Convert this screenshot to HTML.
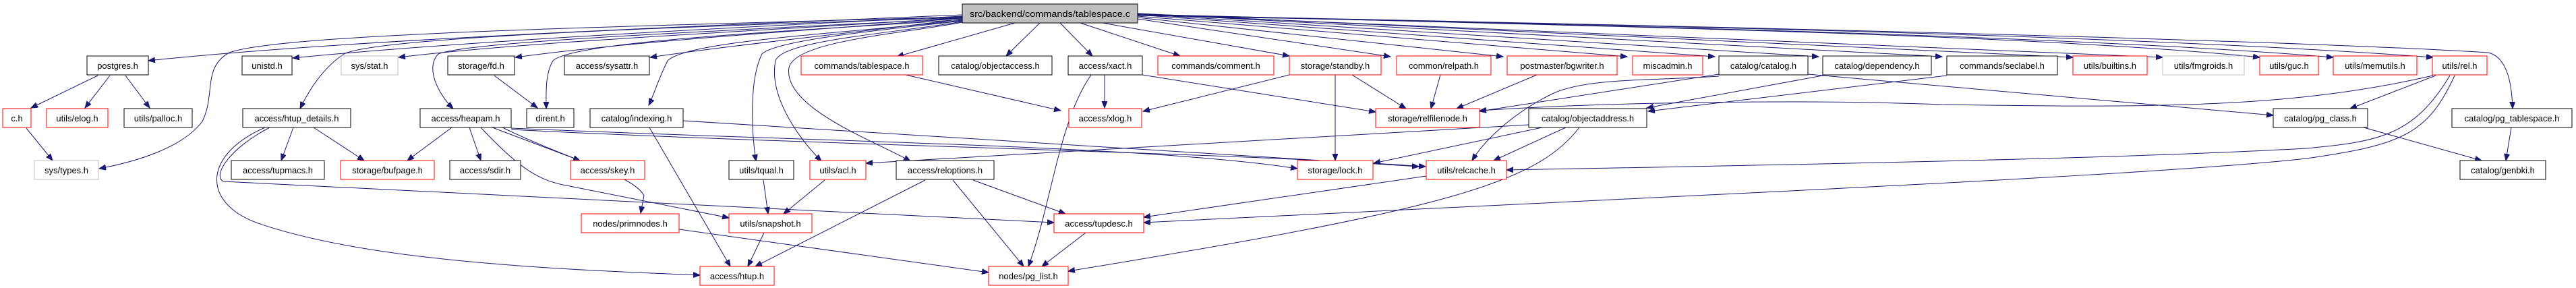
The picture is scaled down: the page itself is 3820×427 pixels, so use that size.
<!DOCTYPE html>
<html><head><meta charset="utf-8"><style>
html,body{margin:0;padding:0;background:#fff;}
svg{display:block;}
text{font-family:"Liberation Sans",sans-serif;font-size:13px;fill:#000;}
.n{fill:#fff;stroke:#000;stroke-width:1;}
.r{fill:#fff;stroke:#f00;stroke-width:1;}
.g{fill:#fff;stroke:#bfbfbf;stroke-width:1;}
.e{fill:none;stroke:#191970;stroke-width:1;marker-end:url(#a);}
</style></head><body>
<svg width="3820" height="427" viewBox="0 0 3820 427" xmlns="http://www.w3.org/2000/svg">
<defs><marker id="a" markerUnits="userSpaceOnUse" markerWidth="12" markerHeight="10" refX="10" refY="4" orient="auto"><path d="M0,0 L10,4 L0,8 z" fill="#191970" stroke="#191970"/></marker></defs>

<!-- edges from top -->
<path class="e" d="M1427,22 C1000,40 500,60 220,90"/>
<path class="e" d="M1427,24 C1100,40 700,60 434,86"/>
<path class="e" d="M1427,26 C1150,45 800,60 591,85"/>
<path class="e" d="M1427,27 C1200,45 950,60 764,85"/>
<path class="e" d="M1427,28 C1300,45 1100,65 964,85"/>
<path class="e" d="M1427,25 C900,40 420,50 340,78 C300,100 320,140 300,180 C270,220 200,240 147,250"/>
<path class="e" d="M1427,26 C1000,40 560,55 510,80 C480,100 460,130 445,161"/>
<path class="e" d="M1427,27 C1100,45 700,60 650,80 C630,100 650,140 672,161"/>
<path class="e" d="M1427,29 C1200,45 850,60 820,90 C808,110 810,140 810,161"/>
<path class="e" d="M1427,30 C1250,50 1020,60 990,90 C975,120 970,140 962,156"/>
<path class="e" d="M1427,31 C1300,45 1150,60 1130,80 C1110,120 1115,200 1121,239"/>
<path class="e" d="M1427,32 C1320,50 1160,60 1150,90 C1140,140 1180,200 1218,239"/>
<path class="e" d="M1427,33 C1340,50 1180,60 1170,100 C1160,160 1300,210 1350,239"/>
<path class="e" d="M1505,34 L1330,84"/>
<path class="e" d="M1542,34 L1492,83"/>
<path class="e" d="M1572,34 L1620,83"/>
<path class="e" d="M1602,34 L1750,83"/>
<path class="e" d="M1635,34 L1912,83"/>
<path class="e" d="M1687,28 L2062,84"/>
<path class="e" d="M1687,26 L2229,84"/>
<path class="e" d="M1687,24 L2413,84"/>
<path class="e" d="M1687,22 L2543,84"/>
<path class="e" d="M1687,21 L2697,84"/>
<path class="e" d="M1687,20 L2880,84"/>
<path class="e" d="M1687,20 L3074,85"/>
<path class="e" d="M1687,21 L3207,85"/>
<path class="e" d="M1687,21 C2400,40 3000,50 3351,85"/>
<path class="e" d="M1687,22 C2500,40 3100,55 3460,85"/>
<path class="e" d="M1687,23 C2600,40 3200,55 3608,85"/>
<path class="e" d="M1687,22 C2600,40 3400,60 3690,78 C3720,85 3725,130 3726,161"/>

<!-- other edges -->
<path class="e" d="M145,112 L46,160"/>
<path class="e" d="M163,112 L126,160"/>
<path class="e" d="M186,112 L222,160"/>
<path class="e" d="M39,190 L78,238"/>
<path class="e" d="M733,112 L797,160"/>
<path class="e" d="M435,189 L417,238"/>
<path class="e" d="M465,189 L540,238"/>
<path class="e" d="M400,189 C340,220 315,260 331,269 L1563,330"/>
<path class="e" d="M393,189 C300,230 300,300 380,330 C550,390 850,400 1038,408"/>
<path class="e" d="M670,189 L604,238"/>
<path class="e" d="M696,189 L713,238"/>
<path class="e" d="M730,189 L860,238"/>
<path class="e" d="M713,189 C770,250 800,268 840,275 L1081,323"/>
<path class="e" d="M745,189 C850,240 940,260 955,290 L950,316"/>
<path class="e" d="M758,190 C1200,210 1700,215 1924,250"/>
<path class="e" d="M758,192 C1200,215 1800,225 2114,247"/>
<path class="e" d="M1013,179 L2104,247"/>
<path class="e" d="M963,189 L1083,395"/>
<path class="e" d="M1132,267 L1139,317"/>
<path class="e" d="M1223,267 L1162,317"/>
<path class="e" d="M1133,345 L1109,395"/>
<path class="e" d="M1372,267 L1120,395"/>
<path class="e" d="M1413,267 L1518,395"/>
<path class="e" d="M1443,267 L1580,317"/>
<path class="e" d="M1343,111 L1573,164"/>
<path class="e" d="M1638,111 L1638,160"/>
<path class="e" d="M1618,111 C1570,180 1560,300 1525,395"/>
<path class="e" d="M1694,111 L2040,166"/>
<path class="e" d="M1912,111 L1695,165"/>
<path class="e" d="M2005,111 L2085,161"/>
<path class="e" d="M1980,111 L1980,238"/>
<path class="e" d="M2136,111 L2122,161"/>
<path class="e" d="M2279,111 L2160,161"/>
<path class="e" d="M2549,110 L2194,165"/>
<path class="e" d="M2549,113 C2450,120 2350,115 2300,140 C2240,170 2200,210 2183,238"/>
<path class="e" d="M2681,110 L3371,171"/>
<path class="e" d="M2703,112 L2442,160"/>
<path class="e" d="M2887,112 L2444,165"/>
<path class="e" d="M3608,112 C3400,160 3200,160 2880,155 C2700,148 2400,150 2194,164"/>
<path class="e" d="M3612,112 L3485,161"/>
<path class="e" d="M3633,112 C3580,200 3530,210 3420,220 C3200,232 2900,240 2234,252"/>
<path class="e" d="M3640,112 C3600,200 3560,215 3420,235 C3200,260 2500,290 1696,330"/>
<path class="e" d="M2115,261 L1696,322"/>
<path class="e" d="M2342,189 C2280,270 2150,310 1584,402"/>
<path class="e" d="M2267,185 L1284,242"/>
<path class="e" d="M2287,189 L2037,242"/>
<path class="e" d="M2322,189 L2215,238"/>
<path class="e" d="M3505,189 L3680,238"/>
<path class="e" d="M3724,189 L3716,238"/>
<path class="e" d="M1007,340 L1466,404"/>
<path class="e" d="M1610,345 L1545,395"/>

<!-- nodes -->
<rect x="1427" y="6" width="260" height="28" fill="#bfbfbf" stroke="#000"/><text x="1557" y="25" text-anchor="middle" textLength="238" lengthAdjust="spacingAndGlyphs">src/backend/commands/tablespace.c</text>

<rect class="n" x="129" y="83" width="91" height="28"/><text x="174.5" y="102" text-anchor="middle">postgres.h</text>
<rect class="n" x="359" y="83" width="74" height="28"/><text x="396" y="102" text-anchor="middle">unistd.h</text>
<rect class="g" x="506" y="83" width="84" height="28"/><text x="548" y="102" text-anchor="middle">sys/stat.h</text>
<rect class="n" x="664" y="83" width="99" height="28"/><text x="713.5" y="102" text-anchor="middle">storage/fd.h</text>
<rect class="n" x="837" y="83" width="126" height="28"/><text x="900" y="102" text-anchor="middle">access/sysattr.h</text>
<rect class="r" x="1188" y="83" width="180" height="28"/><text x="1278" y="102" text-anchor="middle">commands/tablespace.h</text>
<rect class="n" x="1392" y="83" width="168" height="28"/><text x="1476" y="102" text-anchor="middle">catalog/objectaccess.h</text>
<rect class="n" x="1584" y="83" width="110" height="28"/><text x="1639" y="102" text-anchor="middle">access/xact.h</text>
<rect class="r" x="1717" y="83" width="172" height="28"/><text x="1803" y="102" text-anchor="middle">commands/comment.h</text>
<rect class="r" x="1912" y="83" width="136" height="28"/><text x="1980" y="102" text-anchor="middle">storage/standby.h</text>
<rect class="r" x="2071" y="83" width="140" height="28"/><text x="2141" y="102" text-anchor="middle">common/relpath.h</text>
<rect class="r" x="2235" y="83" width="163" height="28"/><text x="2316.5" y="102" text-anchor="middle">postmaster/bgwriter.h</text>
<rect class="r" x="2421" y="83" width="104" height="28"/><text x="2473" y="102" text-anchor="middle">miscadmin.h</text>
<rect class="n" x="2549" y="83" width="132" height="28"/><text x="2615" y="102" text-anchor="middle">catalog/catalog.h</text>
<rect class="n" x="2703" y="83" width="161" height="28"/><text x="2783.5" y="102" text-anchor="middle">catalog/dependency.h</text>
<rect class="n" x="2887" y="83" width="164" height="28"/><text x="2969" y="102" text-anchor="middle">commands/seclabel.h</text>
<rect class="r" x="3074" y="83" width="110" height="28"/><text x="3129" y="102" text-anchor="middle">utils/builtins.h</text>
<rect class="g" x="3207" y="83" width="121" height="28"/><text x="3267.5" y="102" text-anchor="middle">utils/fmgroids.h</text>
<rect class="r" x="3351" y="83" width="87" height="28"/><text x="3394.5" y="102" text-anchor="middle">utils/guc.h</text>
<rect class="r" x="3460" y="83" width="124" height="28"/><text x="3522" y="102" text-anchor="middle">utils/memutils.h</text>
<rect class="r" x="3607" y="83" width="81" height="28"/><text x="3647.5" y="102" text-anchor="middle">utils/rel.h</text>

<rect class="r" x="4" y="161" width="42" height="28"/><text x="25" y="180" text-anchor="middle">c.h</text>
<rect class="r" x="69" y="161" width="91" height="28"/><text x="114.5" y="180" text-anchor="middle">utils/elog.h</text>
<rect class="n" x="184" y="161" width="101" height="28"/><text x="234.5" y="180" text-anchor="middle">utils/palloc.h</text>
<rect class="n" x="360" y="161" width="160" height="28"/><text x="440" y="180" text-anchor="middle">access/htup_details.h</text>
<rect class="n" x="623" y="161" width="135" height="28"/><text x="690.5" y="180" text-anchor="middle">access/heapam.h</text>
<rect class="n" x="781" y="161" width="70" height="28"/><text x="816" y="180" text-anchor="middle">dirent.h</text>
<rect class="n" x="875" y="161" width="138" height="28"/><text x="944" y="180" text-anchor="middle">catalog/indexing.h</text>
<rect class="r" x="1585" y="161" width="108" height="28"/><text x="1639" y="180" text-anchor="middle">access/xlog.h</text>
<rect class="r" x="2040" y="161" width="154" height="28"/><text x="2117" y="180" text-anchor="middle">storage/relfilenode.h</text>
<rect class="n" x="2267" y="161" width="175" height="28"/><text x="2354.5" y="180" text-anchor="middle">catalog/objectaddress.h</text>
<rect class="n" x="3371" y="161" width="140" height="28"/><text x="3441" y="180" text-anchor="middle">catalog/pg_class.h</text>
<rect class="n" x="3636" y="161" width="178" height="28"/><text x="3725" y="180" text-anchor="middle">catalog/pg_tablespace.h</text>

<rect class="g" x="51" y="238" width="95" height="28"/><text x="98.5" y="257" text-anchor="middle">sys/types.h</text>
<rect class="n" x="343" y="238" width="138" height="28" stroke="#404040"/><text x="412" y="257" text-anchor="middle">access/tupmacs.h</text>
<rect class="r" x="505" y="238" width="139" height="28"/><text x="574.5" y="257" text-anchor="middle">storage/bufpage.h</text>
<rect class="n" x="667" y="238" width="105" height="28" stroke="#404040"/><text x="719.5" y="257" text-anchor="middle">access/sdir.h</text>
<rect class="r" x="846" y="238" width="110" height="28"/><text x="901" y="257" text-anchor="middle">access/skey.h</text>
<rect class="n" x="1081" y="238" width="96" height="28"/><text x="1129" y="257" text-anchor="middle">utils/tqual.h</text>
<rect class="r" x="1201" y="238" width="83" height="28"/><text x="1242.5" y="257" text-anchor="middle">utils/acl.h</text>
<rect class="n" x="1329" y="238" width="145" height="28"/><text x="1401.5" y="257" text-anchor="middle">access/reloptions.h</text>
<rect class="r" x="1924" y="238" width="112" height="28"/><text x="1980" y="257" text-anchor="middle">storage/lock.h</text>
<rect class="r" x="2115" y="238" width="119" height="28"/><text x="2174.5" y="257" text-anchor="middle">utils/relcache.h</text>
<rect class="n" x="3648" y="238" width="127" height="28" stroke="#404040"/><text x="3711.5" y="257" text-anchor="middle">catalog/genbki.h</text>

<rect class="r" x="862" y="317" width="145" height="28"/><text x="934.5" y="336" text-anchor="middle">nodes/primnodes.h</text>
<rect class="r" x="1081" y="317" width="123" height="28"/><text x="1142.5" y="336" text-anchor="middle">utils/snapshot.h</text>
<rect class="r" x="1563" y="317" width="133" height="28"/><text x="1629.5" y="336" text-anchor="middle">access/tupdesc.h</text>

<rect class="r" x="1038" y="395" width="110" height="28"/><text x="1093" y="414" text-anchor="middle">access/htup.h</text>
<rect class="r" x="1466" y="395" width="118" height="28"/><text x="1525" y="414" text-anchor="middle">nodes/pg_list.h</text>
</svg>
</body></html>
